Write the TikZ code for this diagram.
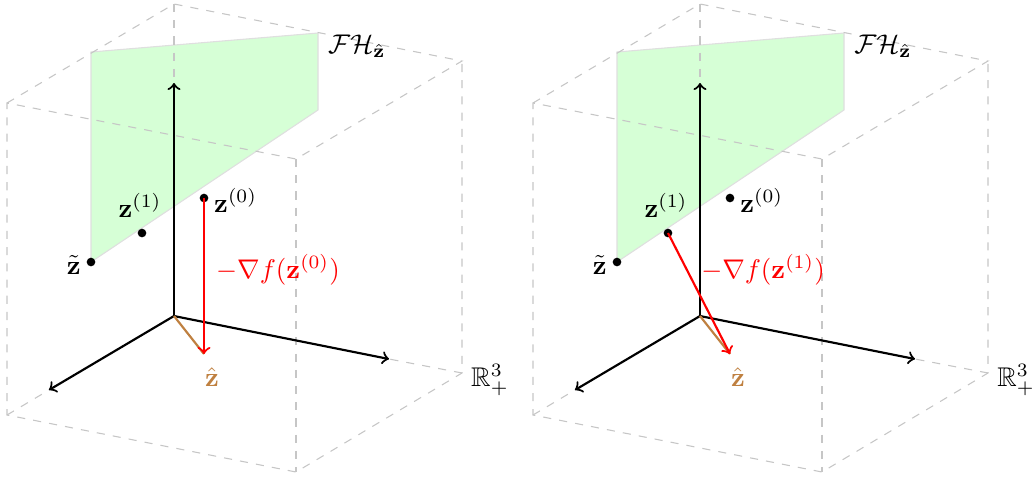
\documentclass[tikz,border=0pt]{standalone}
\usepackage{amsmath,amssymb}
\tikzset{
  cube/.style={gray!45, dashed, line width=0.4pt},
  axis/.style={->, thick, black},
  plane/.style={fill=green!16, draw=gray!25, line width=0.4pt},
  dot/.style={circle, fill=black, inner sep=0pt, minimum size=3.2pt},
  grad/.style={->, thick, red},
  proj/.style={thick, brown},
  lab/.style={inner sep=1pt},
}
\newcommand\drawpanel[5]{%
\begin{scope}[shift={(#2,0)}]
  % corners of the cube
  \coordinate (#1A) at (174,4);
  \coordinate (#1B) at (7,103);
  \coordinate (#1C) at (296,159);
  \coordinate (#1D) at (462,61);
  \coordinate (#1E) at (7,415);
  \coordinate (#1F) at (296,472);
  \coordinate (#1G) at (462,373);
  % axes
  \coordinate (#1O) at (174,316);
  \coordinate (#1Xt) at (49,390);
  \coordinate (#1Yt) at (389,359);
  \coordinate (#1Zt) at (174,83);
  % plane
  \coordinate (#1P1) at (91,52);
  \coordinate (#1P2) at (318,33);
  \coordinate (#1P3) at (318,110);
  \coordinate (#1P4) at (91,262);
  \coordinate (#1zh) at (204,354);
  \path[plane] (#1P1) -- (#1P2) -- (#1P3) -- (#1P4) -- cycle;
  \draw[cube] (#1B) -- (#1A) -- (#1D) -- (#1C) -- (#1B) -- (#1E) -- (#1F) -- (#1G) -- (#1D);
  \draw[cube] (#1C) -- (#1F);
  \draw[cube] (#1A) -- (#1Zt);
  \draw[cube] (#1E) -- (#1Xt);
  \draw[cube] (#1G) -- (#1Yt);
  \draw[axis] (#1O) -- (#1Zt);
  \draw[axis] (#1O) -- (#1Xt);
  \draw[axis] (#1O) -- (#1Yt);
  \draw[proj] (#1O) -- (#1zh);
  \node[dot] (#1zt) at (91,262) {};
  \node[dot] (#1z1) at (142,233) {};
  \node[dot] (#1z0) at (204,198) {};
  \draw[grad] (#1#3.center) -- (#1zh);
  \node[lab, anchor=east] (#1ztl) at (84,265) {$\tilde{\mathbf{z}}$};
  \node[lab, anchor=south] (#1z1l) at (140,221) {$\mathbf{z}^{(1)}$};
  \node[lab, anchor=west] (#1z0l) at (211,200) {$\mathbf{z}^{(0)}$};
  \node[lab, anchor=north, text=brown] (#1zhl) at (212,364) {$\hat{\mathbf{z}}$};
  \node[lab, anchor=west] (#1FH) at (325,46) {$\mathcal{FH}_{\hat{\mathbf{z}}}$};
  \node[lab, anchor=west] (#1R) at (468,380) {$\mathbb{R}^3_+$};
  \node[lab, anchor=west, text=red] (#1gl) at #4 {$-\nabla f(\mathbf{z}^{(#5)})$};
\end{scope}}
\begin{document}
\begin{tikzpicture}[x=0.37pt, y=-0.37pt]
  \useasboundingbox (0,0) rectangle (1032,477);
  \drawpanel{l}{0}{z0}{(213,270)}{0}
  \drawpanel{r}{526}{z1}{(172,270)}{1}
\end{tikzpicture}
\end{document}
